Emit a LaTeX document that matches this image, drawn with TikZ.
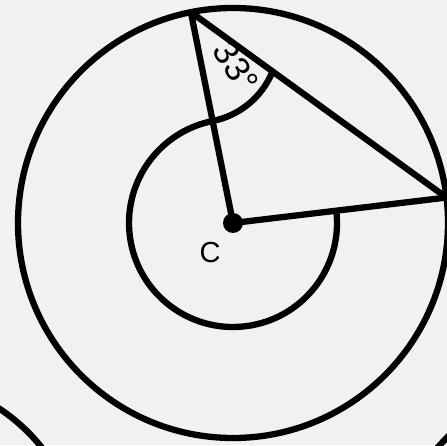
\documentclass[tikz,border=0pt]{standalone}
\usepackage{fontspec}
\setmainfont{Liberation Sans}
\usetikzlibrary{calc}
\definecolor{paper}{RGB}{241,241,241}

\begin{document}
\begin{tikzpicture}[
  x=1pt, y=1pt,
  rim/.style={line width=6.3pt},
  lbl/.style={font=\fontsize{29}{31}\selectfont, inner sep=0pt}
]

% Frame and paper
\fill[paper] (0,0) rectangle (447,445);
\useasboundingbox (0,0) rectangle (447,445);

% Centre and the two points on the big circle
\coordinate (C) at (233,222);
\coordinate (A) at ($(C)+(101.3:215)$);
\coordinate (B) at ($(C)+(6.8:215)$);

% Neighbouring circles, cut off by the frame
\begin{scope}
  \clip (0,0) rectangle (447,445);
  \draw[rim] (-105,-120) circle[radius=188];
  \draw[rim] (600,-145) circle[radius=216];
\end{scope}

% Big circle
\draw[rim] (C) circle[radius=215];

% Small circle running into the angle arc at A
\draw[rim] ($(C)+(6.8:104)$) arc[start angle=6.8, end angle=-258.7, radius=104]
  arc[start angle=-78.7, end angle=-22, radius=82];

% Radii and chord
\draw[rim] (A) -- (C);
\draw[rim] (C) -- (B);
\draw[rim] (A) -- (B);
\fill (C) circle[radius=10];

% Labels
\node[lbl] (clbl) at (210,192) {C};
\node[lbl, font=\fontsize{35}{37}\selectfont, rotate=-58] (anglbl) at (236,378) {33°};

\end{tikzpicture}
\end{document}
